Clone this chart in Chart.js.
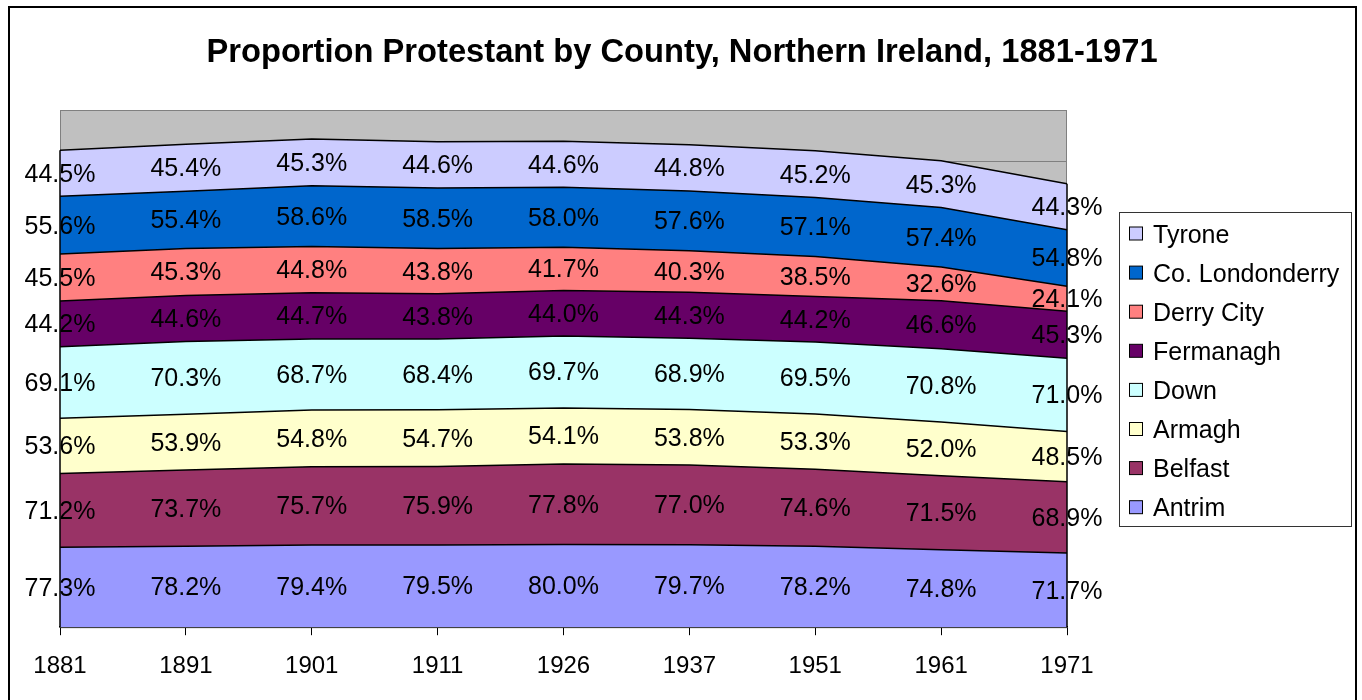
<!DOCTYPE html>
<html>
<head>
<meta charset="utf-8">
<script src="https://cdn.jsdelivr.net/npm/chart.js@4/dist/chart.umd.min.js"></script>
<style>
  html, body { margin: 0; padding: 0; background: #ffffff; }
  #wrap { width: 1362px; height: 700px; position: relative; }
</style>
</head>
<body>
<div id="wrap"><canvas id="c" width="1362" height="700"></canvas></div>
<script>
const years = ['1881', '1891', '1901', '1911', '1926', '1937', '1951', '1961', '1971'];
const antrim      = [77.3, 78.2, 79.4, 79.5, 80.0, 79.7, 78.2, 74.8, 71.7];
const belfast     = [71.2, 73.7, 75.7, 75.9, 77.8, 77.0, 74.6, 71.5, 68.9];
const armagh      = [53.6, 53.9, 54.8, 54.7, 54.1, 53.8, 53.3, 52.0, 48.5];
const down        = [69.1, 70.3, 68.7, 68.4, 69.7, 68.9, 69.5, 70.8, 71.0];
const fermanagh   = [44.2, 44.6, 44.7, 43.8, 44.0, 44.3, 44.2, 46.6, 45.3];
const derryCity   = [45.5, 45.3, 44.8, 43.8, 41.7, 40.3, 38.5, 32.6, 24.1];
const londonderry = [55.6, 55.4, 58.6, 58.5, 58.0, 57.6, 57.1, 57.4, 54.8];
const tyrone      = [44.5, 45.4, 45.3, 44.6, 44.6, 44.8, 45.2, 45.3, 44.3];

const seriesNames  = ['Antrim', 'Belfast', 'Armagh', 'Down', 'Fermanagh', 'Derry City', 'Co. Londonderry', 'Tyrone'];
const seriesValues = [antrim, belfast, armagh, down, fermanagh, derryCity, londonderry, tyrone];
const seriesColors = ['#9999FF', '#993366', '#FFFFCC', '#CCFFFF', '#660066', '#FF8080', '#0066CC', '#CCCCFF'];

const titleText = 'Proportion Protestant by County, Northern Ireland, 1881-1971';
const FONT = '"Liberation Sans", Arial, sans-serif';

const datasets = seriesNames.map((name, i) => ({
  label: name,
  data: seriesValues[i],
  backgroundColor: seriesColors[i],
  borderColor: '#000000',
  borderWidth: 1.5,
  pointRadius: 0,
  pointHoverRadius: 0,
  tension: 0,
  fill: i === 0 ? 'origin' : '-1'
}));

const decorPlugin = {
  id: 'decor',
  beforeDraw(chart) {
    const ctx = chart.ctx;
    const a = chart.chartArea;
    ctx.save();
    ctx.fillStyle = '#ffffff';
    ctx.fillRect(0, 0, chart.width, chart.height);
    // outer frame
    ctx.strokeStyle = '#000000';
    ctx.lineWidth = 2;
    ctx.beginPath();
    ctx.moveTo(9, 702); ctx.lineTo(9, 7); ctx.lineTo(1356, 7); ctx.lineTo(1356, 702);
    ctx.stroke();
    // plot area
    ctx.fillStyle = '#C0C0C0';
    ctx.fillRect(a.left, a.top, a.right - a.left, a.bottom - a.top);
    ctx.strokeStyle = '#808080';
    ctx.lineWidth = 1;
    ctx.strokeRect(a.left + 0.5, a.top + 0.5, a.right - a.left - 1, a.bottom - a.top);
    // title
    ctx.fillStyle = '#000000';
    ctx.font = 'bold 32.7px ' + FONT;
    ctx.textAlign = 'center';
    ctx.textBaseline = 'alphabetic';
    ctx.fillText(titleText, 682, 62);
    ctx.restore();
  },
  afterDatasetsDraw(chart) {
    const ctx = chart.ctx;
    const x = chart.scales.x, y = chart.scales.y;
    const n = years.length;
    const tops = years.map((_, j) => seriesValues.reduce((s, arr) => s + arr[j], 0));
    ctx.save();
    // vertical edges of the stacked areas
    ctx.strokeStyle = '#000000';
    ctx.lineWidth = 1.5;
    ctx.beginPath();
    ctx.moveTo(x.getPixelForValue(0), y.getPixelForValue(0));
    ctx.lineTo(x.getPixelForValue(0), y.getPixelForValue(tops[0]));
    ctx.moveTo(x.getPixelForValue(n - 1), y.getPixelForValue(0));
    ctx.lineTo(x.getPixelForValue(n - 1), y.getPixelForValue(tops[n - 1]));
    ctx.stroke();
    // data labels
    ctx.fillStyle = '#000000';
    ctx.font = '25px ' + FONT;
    ctx.textAlign = 'center';
    ctx.textBaseline = 'middle';
    for (let j = 0; j < n; j++) {
      let base = 0;
      for (let i = 0; i < seriesValues.length; i++) {
        const v = seriesValues[i][j];
        const y0 = y.getPixelForValue(base);
        const y1 = y.getPixelForValue(base + v);
        ctx.fillText(v.toFixed(1) + '%', x.getPixelForValue(j), (y0 + y1) / 2 + 1.5);
        base += v;
      }
    }
    ctx.restore();
  },
  afterDraw(chart) {
    const ctx = chart.ctx;
    ctx.save();
    // legend box
    const lx = 1119, ly = 212, lw = 232, lh = 314;
    ctx.fillStyle = '#ffffff';
    ctx.fillRect(lx, ly, lw, lh);
    ctx.strokeStyle = '#333333';
    ctx.lineWidth = 1;
    ctx.strokeRect(lx + 0.5, ly + 0.5, lw, lh);
    ctx.font = '25px ' + FONT;
    ctx.textAlign = 'left';
    ctx.textBaseline = 'alphabetic';
    const order = seriesNames.map((_, i) => i).reverse();
    order.forEach((i, k) => {
      const cy = 233.5 + k * 39.1;
      ctx.fillStyle = seriesColors[i];
      ctx.fillRect(1129, cy - 6.5, 13, 13);
      ctx.strokeStyle = '#000000';
      ctx.strokeRect(1129.5, cy - 6.5, 13, 13);
      ctx.fillStyle = '#000000';
      ctx.fillText(seriesNames[i], 1153, cy + 9);
    });
    ctx.restore();
  }
};

new Chart(document.getElementById('c'), {
  type: 'line',
  data: { labels: years, datasets: datasets },
  options: {
    responsive: false,
    animation: false,
    events: [],
    layout: { padding: { left: 60, right: 295, top: 110, bottom: 2 } },
    plugins: {
      legend: { display: false },
      title: { display: false },
      tooltip: { enabled: false }
    },
    scales: {
      x: {
        offset: false,
        grid: { drawOnChartArea: false, color: '#000000', tickLength: 8, drawTicks: true },
        border: { display: true, color: '#000000', width: 1.5 },
        ticks: { color: '#000000', font: { family: FONT, size: 24 }, padding: 17, autoSkip: false, maxRotation: 0 }
      },
      y: {
        stacked: true,
        min: 0, max: 500,
        ticks: { display: false, stepSize: 50 },
        grid: { color: '#808080', drawTicks: false, lineWidth: 1 },
        border: { display: false }
      }
    }
  },
  plugins: [decorPlugin]
});
</script>
</body>
</html>
